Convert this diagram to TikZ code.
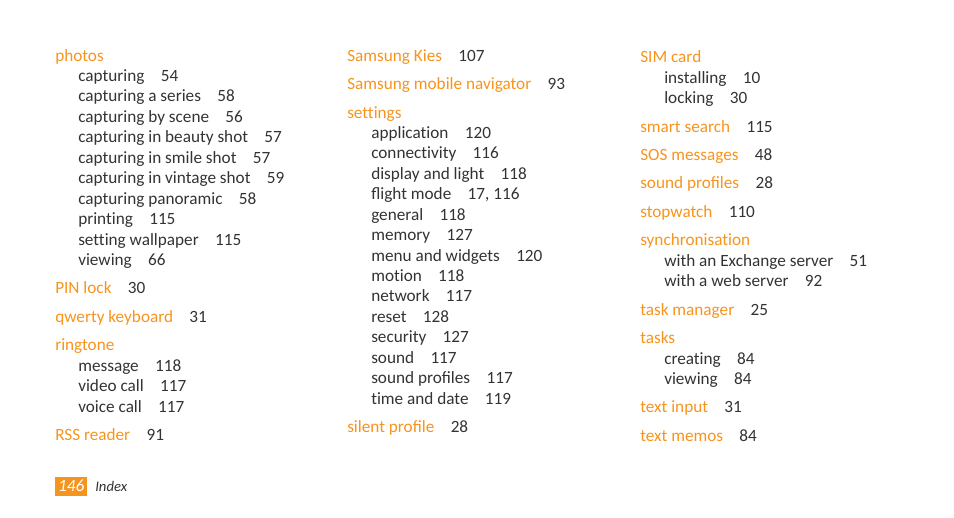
\documentclass[tikz,border=0pt]{standalone}
\usepackage{fontspec}
\setmainfont[Ligatures=NoCommon]{Carlito}
\definecolor{idxorange}{HTML}{F7941D}
\definecolor{idxgray}{HTML}{333333}
\tikzset{
 main/.style={anchor=base west,inner sep=0pt,text=idxorange,font=\fontsize{12.9}{14}\selectfont},
 sub/.style={anchor=base west,inner sep=0pt,text=idxgray,font=\fontsize{12.9}{14}\selectfont},
}
\newcommand{\pg}[1]{\hspace{0.95em}\textcolor{idxgray}{#1}}
\begin{document}
\begin{tikzpicture}[x=0.75pt,y=-0.75pt]
\useasboundingbox (0,0) rectangle (954,518);
% column 1
\foreach[count=\i] \s/\x/\y/\t in {main/55/56/{photos},sub/78/76/{capturing\pg{54}},sub/78/96/{capturing a series\pg{58}},sub/78/117/{capturing by scene\pg{56}},sub/78/137/{capturing in beauty shot\pg{57}},sub/78/158/{capturing in smile shot\pg{57}},sub/78/178/{capturing in vintage shot\pg{59}},sub/78/199/{capturing panoramic\pg{58}},sub/78/219/{printing\pg{115}},sub/78/240/{setting wallpaper\pg{115}},sub/78/260/{viewing\pg{66}},main/55/288/{PIN lock\pg{30}},main/55/317/{qwerty keyboard\pg{31}},main/55/345/{ringtone},sub/78/366/{message\pg{118}},sub/78/386/{video call\pg{117}},sub/78/407/{voice call\pg{117}},main/55/435/{RSS reader\pg{91}}}{
 \node[\s] (a\i) at (\x,\y+5) {\t};
}
% column 2
\foreach[count=\i] \s/\x/\y/\t in {main/347/56/{Samsung Kies\pg{107}},main/347/84/{Samsung mobile navigator\pg{93}},main/347/113/{settings},sub/371/133/{application\pg{120}},sub/371/153/{connectivity\pg{116}},sub/371/174/{display and light\pg{118}},sub/371/194/{ﬂight mode\pg{17, 116}},sub/371/215/{general\pg{118}},sub/371/235/{memory\pg{127}},sub/371/256/{menu and widgets\pg{120}},sub/371/276/{motion\pg{118}},sub/371/296/{network\pg{117}},sub/371/317/{reset\pg{128}},sub/371/337/{security\pg{127}},sub/371/358/{sound\pg{117}},sub/371/378/{sound proﬁles\pg{117}},sub/371/399/{time and date\pg{119}},main/347/427/{silent proﬁle\pg{28}}}{
 \node[\s] (b\i) at (\x,\y+5) {\t};
}
% column 3
\foreach[count=\i] \s/\x/\y/\t in {main/640/57/{SIM card},sub/664/78/{installing\pg{10}},sub/664/98/{locking\pg{30}},main/640/127/{smart search\pg{115}},main/640/155/{SOS messages\pg{48}},main/640/183/{sound proﬁles\pg{28}},main/640/212/{stopwatch\pg{110}},main/640/240/{synchronisation},sub/664/261/{with an Exchange server\pg{51}},sub/664/281/{with a web server\pg{92}},main/640/310/{task manager\pg{25}},main/640/338/{tasks},sub/664/359/{creating\pg{84}},sub/664/379/{viewing\pg{84}},main/640/407/{text input\pg{31}},main/640/436/{text memos\pg{84}}}{
 \node[\s] (c\i) at (\x,\y+5) {\t};
}
% footer
\node[anchor=west,fill=idxorange,text=white,inner sep=0pt,minimum width=32*0.75pt,minimum height=19*0.75pt,font=\fontsize{12.9}{14}\itshape] (pnum) at (55,486) {146};
\node[anchor=west,inner sep=0pt,text=idxgray,font=\fontsize{11}{13}\itshape] (ftitle) at (95,486) {Index};
\end{tikzpicture}
\end{document}
